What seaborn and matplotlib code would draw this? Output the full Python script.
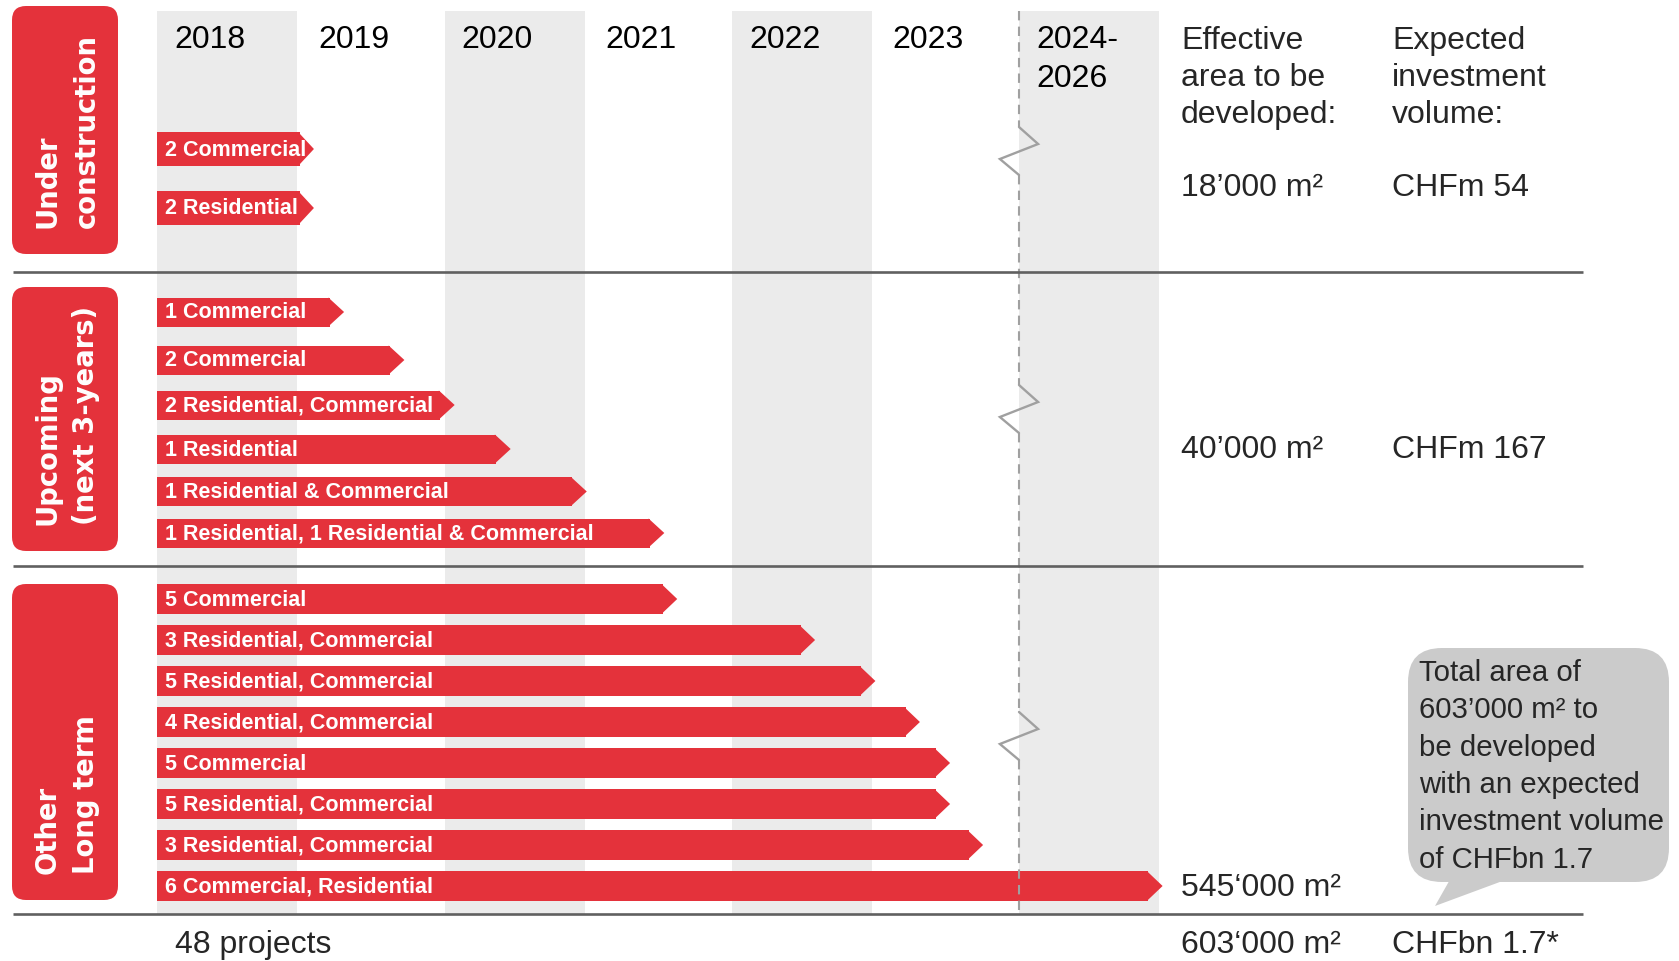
import numpy as np
import pandas as pd
import matplotlib
matplotlib.use("Agg")
import matplotlib.pyplot as plt
from matplotlib.patches import FancyBboxPatch, Polygon
import seaborn as sns

# ---------------- data ----------------
years = ["2018", "2019", "2020", "2021", "2022", "2023", "2024-\n2026"]
group_titles = [("Under", "construction"), ("Upcoming", "(next 3-years)"), ("Other", "Long term")]

under_labels = ["2 Commercial", "2 Residential"]
under_end = [1.09, 1.09]

upcoming_labels = ["1 Commercial", "2 Commercial", "2 Residential, Commercial", "1 Residential",
                   "1 Residential & Commercial", "1 Residential, 1 Residential & Commercial"]
upcoming_end = [1.30, 1.72, 2.07, 2.46, 2.99, 3.53]

other_labels = ["5 Commercial", "3 Residential, Commercial", "5 Residential, Commercial",
                "4 Residential, Commercial", "5 Commercial", "5 Residential, Commercial",
                "3 Residential, Commercial", "6 Commercial, Residential"]
other_end = [3.62, 4.58, 5.00, 5.31, 5.52, 5.52, 5.75, 7.00]

area_values = ["18\u2019000 m\u00b2", "40\u2019000 m\u00b2", "545\u2018000 m\u00b2"]
invest_values = ["CHFm 54", "CHFm 167", ""]
header_area = ["Effective", "area to be", "developed:"]
header_invest = ["Expected", "investment", "volume:"]
total_projects = "48 projects"
total_area = "603\u2018000 m\u00b2"
total_invest = "CHFbn 1.7*"
callout_lines = ["Total area of", "603\u2019000 m\u00b2 to", "be developed",
                 "with an expected", "investment volume", "of CHFbn 1.7"]

# ---------------- layout / style ----------------
W, H = 1679, 961
COL0, COLW = 157.4, 143.6           # pixel start / width of one year column
HEAD = 0.10                          # arrow head length (year units)
BAND_W = 0.975                       # shaded share of a column
RED = "#E4323B"
BAND = "#EBEBEB"
SEP = "#606060"
DASH = "#A0A0A0"
CALLOUT = "#CBCBCB"

def xd(px):
    return (px - COL0) / COLW

groups = [
    dict(labels=under_labels, ends=under_end, rows=[149, 208], h=34,
         box=(6, 254), zig=151, text_y=188),
    dict(labels=upcoming_labels, ends=upcoming_end, rows=[312, 360, 405, 449, 491.5, 533], h=29,
         box=(287, 551), zig=409, text_y=450),
    dict(labels=other_labels, ends=other_end, rows=[599, 640, 681, 722, 763, 804, 845, 886], h=30,
         box=(584, 900), zig=736, text_y=888),
]
separators = [272, 566, 914]
BAND_TOP, BAND_BOT = 11, 914

sns.set_theme(style="white")
plt.rcParams["font.family"] = ["Liberation Sans", "DejaVu Sans"]

fig = plt.figure(figsize=(W / 100, H / 100), dpi=100)
fig.patch.set_facecolor("white")
ax = fig.add_axes([0, 0, 1, 1])
ax.set_xlim(xd(0), xd(W))
ax.set_ylim(H, 0)

# alternating year columns
for i in range(0, len(years), 2):
    ax.axvspan(i, i + BAND_W, ymin=1 - BAND_BOT / H, ymax=1 - BAND_TOP / H,
               color=BAND, lw=0, zorder=0)

# year labels
for i, yl in enumerate(years):
    ax.text(i + 0.12, 25, yl, ha="left", va="top", fontsize=23,
            color="black", linespacing=1.37, zorder=6)

# bars (bodies with seaborn, heads as polygons)
for g in groups:
    ys = g["rows"]
    step = float(np.min(np.diff(ys)))
    df = pd.DataFrame({"body": np.array(g["ends"]) - HEAD, "y": ys, "label": g["labels"]})
    n_before = len(ax.patches)
    sns.barplot(data=df, x="body", y="y", orient="y", native_scale=True,
                width=g["h"] / step, color=RED, saturation=1, linewidth=0,
                errorbar=None, ax=ax, zorder=3)
    new_patches = ax.patches[n_before:]
    for p, lab in zip(new_patches, g["labels"]):
        x1 = p.get_x() + p.get_width()
        y0 = p.get_y()
        hh = p.get_height()
        ax.add_patch(Polygon([(x1 - 0.01, y0), (x1 + HEAD, y0 + hh / 2), (x1 - 0.01, y0 + hh)],
                             closed=True, facecolor=RED, edgecolor="none", zorder=3))
        ax.text(0.05, y0 + hh / 2 + 1, lab, ha="left", va="center", fontsize=15.5,
                fontweight="bold", color="white", zorder=4)

# dashed line with zig-zag breaks
seg_start = BAND_TOP
for g in groups:
    z = g["zig"]
    ax.plot([6, 6], [seg_start, z - 24], color=DASH, lw=1.5, ls=(0, (4.5, 3)), zorder=5)
    ax.plot([6, 6 + 0.133, 6 - 0.133, 6], [z - 24, z - 7, z + 8, z + 24],
            color=DASH, lw=1.7, solid_joinstyle="miter", zorder=5)
    seg_start = z + 24
ax.plot([6, 6], [seg_start, BAND_BOT], color=DASH, lw=1.5, ls=(0, (4.5, 3)), zorder=5)

ax.axis("off")

# ---------------- pixel overlay for decorations ----------------
axp = fig.add_axes([0, 0, 1, 1])
axp.set_xlim(0, W)
axp.set_ylim(H, 0)
axp.axis("off")
axp.patch.set_visible(False)

for y in separators:
    axp.plot([13, 1583], [y, y], color=SEP, lw=1.9, solid_capstyle="butt")

for g, (t1, t2) in zip(groups, group_titles):
    top, bot = g["box"]
    axp.add_patch(FancyBboxPatch((12, top), 106, bot - top,
                                 boxstyle="round,pad=0,rounding_size=14",
                                 facecolor=RED, edgecolor="none"))
    for xx, t in ((48, t1), (86.5, t2)):
        axp.text(xx, bot - 26, t, rotation=90, ha="center", va="bottom",
                 fontsize=19.8, fontweight="bold", color="white",
                 family=["DejaVu Sans"])

# right-side headers
for k, (a, b) in enumerate(zip(header_area, header_invest)):
    axp.text(1181, 26 + k * 36.8, a, ha="left", va="top", fontsize=23)
    axp.text(1392, 26 + k * 36.8, b, ha="left", va="top", fontsize=23)

for g, a, b in zip(groups, area_values, invest_values):
    axp.text(1181, g["text_y"], a, ha="left", va="center", fontsize=23)
    if b:
        axp.text(1392, g["text_y"], b, ha="left", va="center", fontsize=23)

axp.text(175, 945, total_projects, ha="left", va="center", fontsize=23)
axp.text(1181, 945, total_area, ha="left", va="center", fontsize=23)
axp.text(1392, 945, total_invest, ha="left", va="center", fontsize=23)

# callout bubble
axp.add_patch(FancyBboxPatch((1408, 648), 261, 234,
                             boxstyle="round,pad=0,rounding_size=34",
                             facecolor=CALLOUT, edgecolor="none"))
axp.add_patch(Polygon([(1452, 876), (1435, 906), (1516, 876)], closed=True,
                      facecolor=CALLOUT, edgecolor="none"))
for k, t in enumerate(callout_lines):
    axp.text(1419, 659 + k * 37.3, t, ha="left", va="top", fontsize=21.2)

fig.savefig("out.png", dpi=100, facecolor="white")
